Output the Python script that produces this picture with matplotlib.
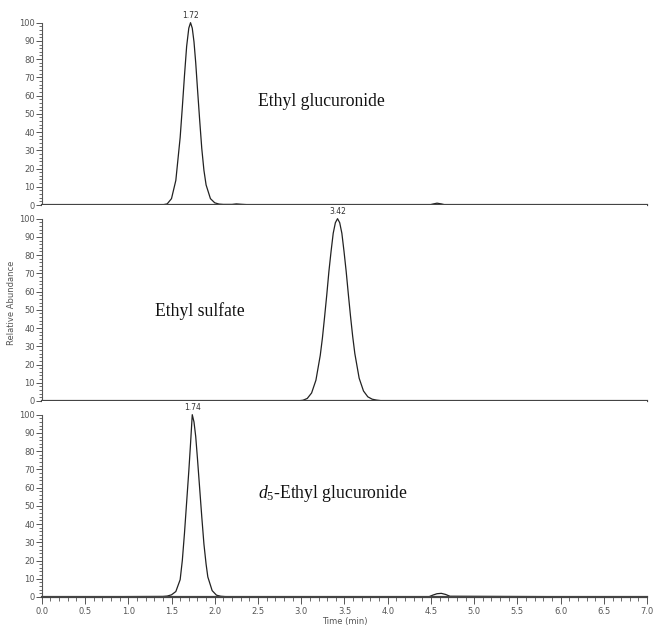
import numpy as np
import matplotlib.pyplot as plt
from matplotlib.ticker import MultipleLocator, FixedLocator

plt.rcParams['mathtext.fontset'] = 'custom'
plt.rcParams['mathtext.rm'] = 'Liberation Serif'
plt.rcParams['mathtext.it'] = 'Liberation Serif:italic'

# Ethyl glucuronide trace (time in min, relative abundance)
t_etg = [0.0, 1.40, 1.45, 1.50, 1.55, 1.60, 1.625, 1.65, 1.675, 1.70, 1.72, 1.74, 1.76,
         1.78, 1.80, 1.825, 1.85, 1.875, 1.90, 1.95, 2.00, 2.05, 2.10, 2.20, 2.25, 2.30,
         2.40, 4.48, 4.53, 4.57, 4.62, 4.67, 7.0]
y_etg = [0.0, 0.1, 0.6, 3.5, 13.5, 37, 53.5, 71, 87, 97, 100, 97, 89.5,
         78, 64, 47, 31, 19, 11, 3.5, 1.2, 0.5, 0.3, 0.3, 0.6, 0.4,
         0.1, 0.0, 0.6, 1.0, 0.6, 0.0, 0.0]

# Ethyl sulfate trace
t_ets = [0.0, 2.97, 3.02, 3.07, 3.12, 3.17, 3.22, 3.245, 3.27, 3.295, 3.32, 3.345, 3.37,
         3.395, 3.42, 3.445, 3.47, 3.495, 3.52, 3.545, 3.57, 3.595, 3.62, 3.67, 3.72,
         3.77, 3.82, 3.87, 3.92, 3.97, 7.0]
y_ets = [0.0, 0.1, 0.4, 1.4, 4.4, 11.4, 25, 34.5, 46, 58, 71, 82, 92,
         97.8, 100, 97.8, 92, 82, 71, 58.5, 46.5, 35.5, 26, 12.5, 5.5,
         2.3, 1.0, 0.5, 0.2, 0.1, 0.0]

# d5-Ethyl glucuronide trace
t_d5 = [0.0, 1.40, 1.45, 1.50, 1.55, 1.60, 1.625, 1.65, 1.675, 1.70, 1.72, 1.74, 1.76,
        1.78, 1.80, 1.825, 1.85, 1.875, 1.90, 1.92, 1.97, 2.02, 2.07, 2.15, 4.47,
        4.52, 4.57, 4.62, 4.67, 4.72, 7.0]
y_d5 = [0.0, 0.3, 0.5, 1.2, 3.0, 9.5, 20, 35, 52, 69, 84, 100, 96,
        88, 76, 60, 44, 29, 18, 11, 3.5, 1.0, 0.4, 0.1, 0.0,
        1.0, 1.8, 2.0, 1.4, 0.4, 0.0]

names = ['Ethyl glucuronide', 'Ethyl sulfate', r'$\mathit{d}_5$-Ethyl glucuronide']
peak_rt = [1.72, 3.42, 1.74]
name_pos = [(2.5, 57), (1.31, 49.5), (2.5, 57)]

traces = [(t_etg, y_etg), (t_ets, y_ets), (t_d5, y_d5)]

fig = plt.figure(figsize=(6.53, 6.25), dpi=100)
left, width = 0.064, 0.927
h = 0.3136
bottoms = [0.0448 + 2 * h, 0.0448 + h, 0.0448]

tick_col = '#555555'
for i, (t, y) in enumerate(traces):
    ax = fig.add_axes([left, bottoms[i], width, h])
    ax.plot(t, y, color='#222222', lw=0.9)
    ax.set_xlim(0, 7.0)
    ax.set_ylim(0, 107.5)
    for s in ['top', 'right']:
        ax.spines[s].set_visible(False)
    ax.spines['bottom'].set_linewidth(1.6)
    ax.spines['bottom'].set_color('#444444')
    ax.spines['left'].set_linewidth(0.8)
    ax.spines['left'].set_color(tick_col)
    ax.spines['left'].set_bounds(0, 100)
    ax.yaxis.set_major_locator(FixedLocator(np.arange(0, 101, 10)))
    ax.yaxis.set_minor_locator(FixedLocator(np.arange(0, 101, 2)))
    ax.tick_params(axis='y', which='major', length=4, width=0.7, labelsize=6,
                   colors=tick_col, pad=1)
    ax.tick_params(axis='y', which='minor', length=2, width=0.6, colors=tick_col)
    if i < 2:
        ax.tick_params(axis='x', which='both', bottom=False, labelbottom=False)
    else:
        ax.xaxis.set_major_locator(MultipleLocator(0.5))
        ax.xaxis.set_minor_locator(MultipleLocator(0.1))
        ax.xaxis.set_major_formatter(plt.FormatStrFormatter('%.1f'))
        ax.tick_params(axis='x', which='major', length=5, width=0.7, labelsize=6,
                       colors=tick_col, pad=2)
        ax.tick_params(axis='x', which='minor', length=3, width=0.6, colors=tick_col)
        ax.set_xlabel('Time (min)', fontsize=6, color=tick_col, labelpad=1)
    ax.text(peak_rt[i], 101.5, f'{peak_rt[i]:.2f}', ha='center', va='bottom',
            fontsize=5.5, color='#333333')
    ax.text(name_pos[i][0], name_pos[i][1], names[i], fontsize=12.7,
            family='Liberation Serif', ha='left', va='center', color='#111111')
    if i == 1:
        ax.set_ylabel('Relative Abundance', fontsize=6, color=tick_col, labelpad=2)

fig.savefig('out.png', dpi=100)
